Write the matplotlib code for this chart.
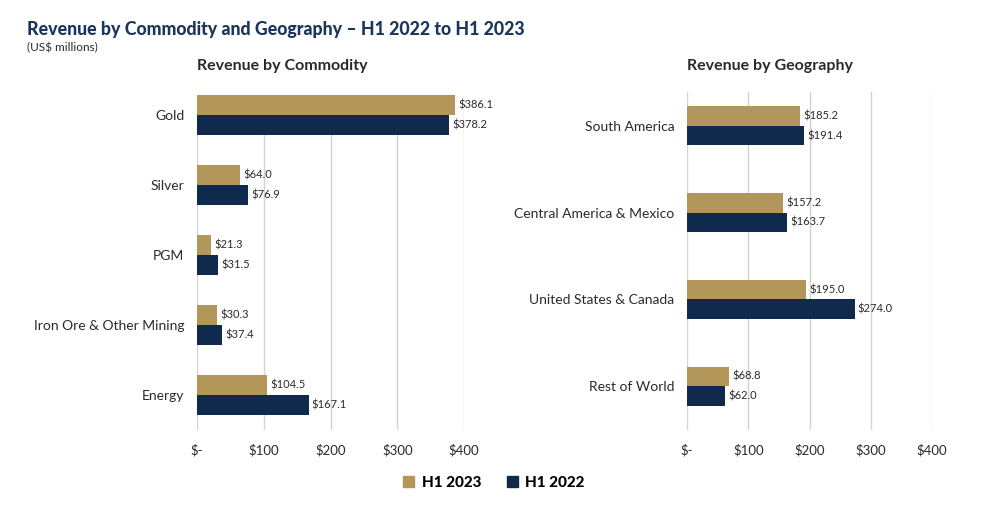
import matplotlib.pyplot as plt

plt.rcParams['font.family'] = ['Lato', 'DejaVu Sans']

commodities = ['Gold', 'Silver', 'PGM', 'Iron Ore & Other Mining', 'Energy']
comm_2023 = [386.1, 64.0, 21.3, 30.3, 104.5]
comm_2022 = [378.2, 76.9, 31.5, 37.4, 167.1]

regions = ['South America', 'Central America & Mexico', 'United States & Canada', 'Rest of World']
geo_2023 = [185.2, 157.2, 195.0, 68.8]
geo_2022 = [191.4, 163.7, 274.0, 62.0]

ticks = [0, 100, 200, 300, 400]
tick_labels = ['$-', '$100', '$200', '$300', '$400']

GOLD = '#B39659'
NAVY = '#102A4E'
TEXT = '#2A2A2A'

fig = plt.figure(figsize=(9.91, 5.29), dpi=100)

ax1 = fig.add_axes([197 / 991, 1 - 430 / 529, 267 / 991, 335 / 529])
ax2 = fig.add_axes([687 / 991, 1 - 430 / 529, 245 / 991, 338 / 529])


def draw(ax, cats, v23, v22, h, top, bottom, title, tpad):
    pos = list(range(len(cats)))
    ax.barh([p - h / 2 for p in pos], v23, height=h, color=GOLD, zorder=3)
    ax.barh([p + h / 2 for p in pos], v22, height=h, color=NAVY, zorder=3)
    for p, a, b in zip(pos, v23, v22):
        ax.text(a + 5, p - h / 2, f'${a:.1f}', va='center', ha='left',
                fontsize=8, color=TEXT, clip_on=False)
        ax.text(b + 5, p + h / 2, f'${b:.1f}', va='center', ha='left',
                fontsize=8, color=TEXT, clip_on=False)
    ax.set_xlim(0, 400)
    ax.set_ylim(bottom, top)
    ax.set_yticks(pos)
    ax.set_yticklabels(cats, fontsize=10, color=TEXT)
    ax.set_xticks(ticks)
    ax.set_xticklabels(tick_labels, fontsize=9.5, color=TEXT)
    ax.tick_params(axis='y', length=0, pad=9)
    ax.tick_params(axis='x', length=0, pad=10)
    ax.grid(axis='x', color='#D3D3D3', linewidth=1, zorder=0)
    for s in ax.spines.values():
        s.set_visible(False)
    ax.set_title(title, loc='left', fontsize=11.5, fontweight='bold',
                 color=TEXT, pad=tpad)


draw(ax1, commodities, comm_2023, comm_2022, 0.286, -0.286, 4.5, 'Revenue by Commodity', 18)
draw(ax2, regions, geo_2023, geo_2022, 0.224, -0.39, 3.506, 'Revenue by Geography', 16)

fig.text(27 / 991, 1 - 30 / 529, 'Revenue by Commodity and Geography \u2013 H1 2022 to H1 2023',
         fontsize=12.8, fontweight='black', color='#1B365D', va='center', ha='left')
fig.text(27 / 991, 1 - 48 / 529, '(US$ millions)', fontsize=8.5, color=TEXT,
         va='center', ha='left')

handles = [plt.Rectangle((0, 0), 1, 1, color=GOLD), plt.Rectangle((0, 0), 1, 1, color=NAVY)]
fig.legend(handles, ['H1 2023', 'H1 2022'], loc='center', bbox_to_anchor=(494 / 991, 1 - 483 / 529),
           ncol=2, frameon=False, handlelength=0.7, handleheight=0.7, columnspacing=1.7,
           handletextpad=0.5, prop={'weight': 'black', 'size': 11})

plt.savefig('out.png', dpi=100)
